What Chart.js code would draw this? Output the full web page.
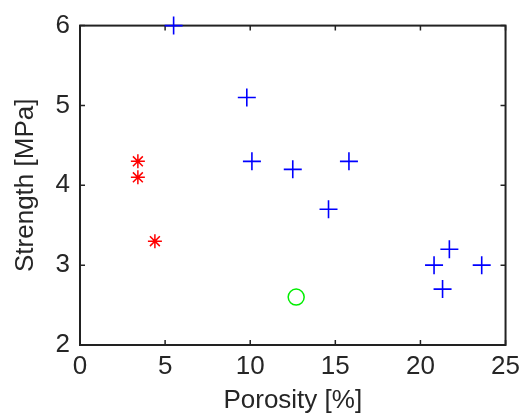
<!DOCTYPE html>
<html>
<head>
<meta charset="utf-8">
<script src="https://cdn.jsdelivr.net/npm/chart.js@4"></script>
<style>
  html, body { margin: 0; padding: 0; background: #fff; }
  #wrap { width: 526px; height: 416px; }
</style>
</head>
<body>
<div id="wrap"><canvas id="scatterChart" width="526" height="416"></canvas></div>
<script>
// data
const blueX = [5.5, 9.8, 10.1, 12.5, 15.8, 14.6, 20.8, 21.7, 21.3, 23.6];
const blueY = [6.0, 5.1, 4.3, 4.2, 4.3, 3.7, 3.0, 3.2, 2.7, 3.0];
const redX = [3.4, 3.4, 4.4];
const redY = [4.3, 4.1, 3.3];
const greenX = [12.7];
const greenY = [2.6];
const xTicks = [0, 5, 10, 15, 20, 25];
const yTicks = [2, 3, 4, 5, 6];

const toPoints = (xs, ys) => xs.map((x, i) => ({ x: x, y: ys[i] }));

const textColor = '#262626';
const font = { family: 'Liberation Sans, Arial, sans-serif', size: 26 };

// box round the plot with ticks pointing inward on all four sides
const boxTicks = {
  id: 'boxTicks',
  beforeDatasetsDraw(chart) {
    const { ctx, chartArea: a, scales } = chart;
    ctx.save();
    ctx.strokeStyle = '#222';
    ctx.lineWidth = 2;
    ctx.strokeRect(a.left, a.top, a.right - a.left, a.bottom - a.top);
    ctx.lineWidth = 1.5;
    ctx.beginPath();
    xTicks.forEach(v => {
      const px = scales.x.getPixelForValue(v);
      ctx.moveTo(px, a.bottom); ctx.lineTo(px, a.bottom - 5);
      ctx.moveTo(px, a.top); ctx.lineTo(px, a.top + 5);
    });
    yTicks.forEach(v => {
      const py = scales.y.getPixelForValue(v);
      ctx.moveTo(a.left, py); ctx.lineTo(a.left + 5, py);
      ctx.moveTo(a.right, py); ctx.lineTo(a.right - 5, py);
    });
    ctx.stroke();
    ctx.restore();
  }
};

new Chart(document.getElementById('scatterChart').getContext('2d'), {
  type: 'scatter',
  data: {
    datasets: [
      {
        data: toPoints(blueX, blueY),
        pointStyle: 'cross',
        pointRadius: 9,
        pointBorderWidth: 1.6,
        borderColor: '#0000ff',
        backgroundColor: '#0000ff',
        clip: false
      },
      {
        data: toPoints(redX, redY),
        pointStyle: 'star',
        pointRadius: 7,
        pointBorderWidth: 1.5,
        borderColor: '#ff0000',
        backgroundColor: '#ff0000',
        clip: false
      },
      {
        data: toPoints(greenX, greenY),
        pointStyle: 'circle',
        pointRadius: 8,
        pointBorderWidth: 1.5,
        borderColor: '#00ee00',
        backgroundColor: 'rgba(0,0,0,0)',
        clip: false
      }
    ]
  },
  options: {
    responsive: false,
    animation: false,
    layout: { padding: { top: 23, right: 17, bottom: 0, left: 0 } },
    plugins: { legend: { display: false }, tooltip: { enabled: false } },
    scales: {
      x: {
        type: 'linear',
        min: 0, max: 25,
        afterBuildTicks: s => { s.ticks = xTicks.map(v => ({ value: v })); },
        afterFit: s => { s.height = 71; },
        grid: { display: false, drawTicks: false },
        border: { display: false },
        ticks: { color: textColor, font: font, padding: 6, maxRotation: 0 },
        title: { display: true, text: 'Porosity [%]', color: textColor, font: font, padding: { top: 0, bottom: 0 } }
      },
      y: {
        type: 'linear',
        min: 2, max: 6,
        afterBuildTicks: s => { s.ticks = yTicks.map(v => ({ value: v })); },
        afterFit: s => { s.width = 80; },
        grid: { display: false, drawTicks: false },
        border: { display: false },
        ticks: { color: textColor, font: font, padding: 10 },
        title: { display: true, text: 'Strength [MPa]', color: textColor, font: font, padding: { top: 10, bottom: 0 } }
      }
    }
  },
  plugins: [boxTicks]
});
</script>
</body>
</html>
